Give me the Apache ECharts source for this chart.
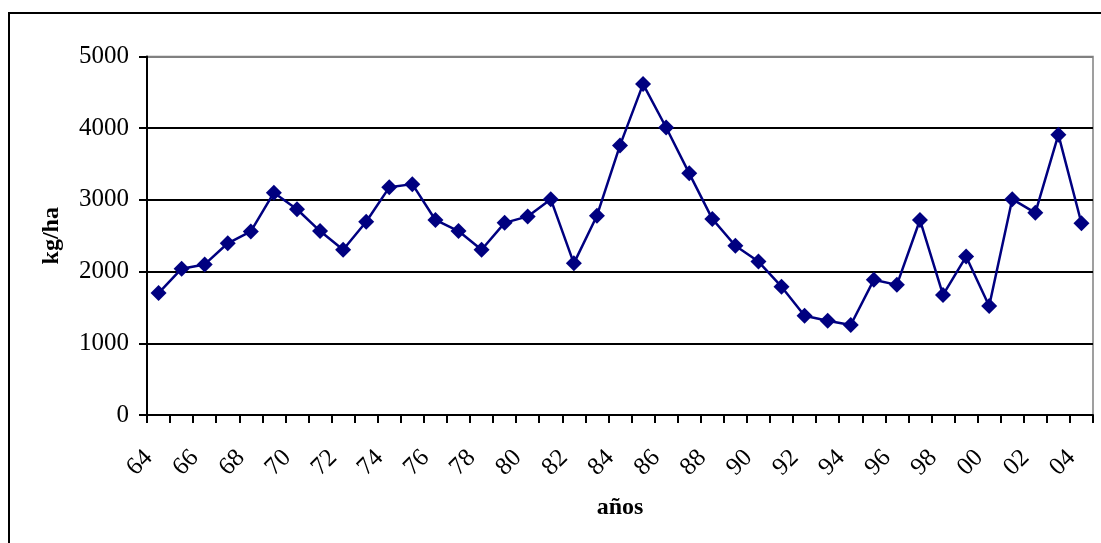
<!DOCTYPE html>
<html>
<head>
<meta charset="utf-8">
<script src="https://cdn.jsdelivr.net/npm/echarts@6/dist/echarts.min.js"></script>
<style>
  html, body { margin: 0; padding: 0; background: #fff; }
  #chart { width: 1101px; height: 543px; }
</style>
</head>
<body>
<div id="chart"></div>
<script>
// Years 1964–2004, labelled with two digits
const years = ['64','65','66','67','68','69','70','71','72','73','74','75','76','77','78','79',
  '80','81','82','83','84','85','86','87','88','89','90','91','92','93','94','95','96','97','98','99',
  '00','01','02','03','04'];

// Yield in kg/ha
const yieldKgHa = [1700, 2040, 2100, 2395, 2560, 3100, 2870, 2565, 2305, 2695, 3175, 3220, 2720, 2565, 2305, 2680,
  2770, 3010, 2115, 2780, 3760, 4615, 4010, 3370, 2735, 2360, 2140, 1790, 1385, 1315, 1255, 1885, 1815, 2720, 1675, 2210,
  1520, 3010, 2820, 3910, 2675];

const yTicks = [0, 1000, 2000, 3000, 4000, 5000];

const serif = '"Liberation Serif", "DejaVu Serif", serif';
const chart = echarts.init(document.getElementById('chart'), null, { renderer: 'canvas' });

chart.setOption({
  backgroundColor: '#ffffff',
  animation: false,
  graphic: [{
    type: 'rect',
    silent: true,
    z: -10,
    shape: { x: 9, y: 13, width: 1120, height: 560 },
    style: { fill: 'none', stroke: '#000000', lineWidth: 2 }
  }],
  grid: {
    left: 147, top: 56.5, right: 8, bottom: 128,
    show: true, borderColor: '#808080', borderWidth: 1.5, backgroundColor: 'transparent'
  },
  xAxis: {
    type: 'category',
    data: years,
    boundaryGap: true,
    name: 'años',
    nameLocation: 'middle',
    nameGap: 81,
    nameTextStyle: { fontFamily: serif, fontWeight: 'bold', fontSize: 24, color: '#000' },
    axisLine: { lineStyle: { color: '#000', width: 2 } },
    axisTick: { show: true, interval: 0, length: 8, inside: false, lineStyle: { color: '#000', width: 2 } },
    axisLabel: {
      interval: 1, rotate: 45, margin: 29,
      padding: [0, 14, 0, 0],
      fontFamily: serif, fontSize: 25, color: '#000'
    },
    splitLine: { show: false }
  },
  yAxis: {
    type: 'value',
    min: yTicks[0], max: yTicks[yTicks.length - 1], interval: 1000,
    name: 'kg/ha',
    nameLocation: 'middle',
    nameGap: 83,
    nameRotate: 90,
    nameTextStyle: { fontFamily: serif, fontWeight: 'bold', fontSize: 24, color: '#000' },
    axisLine: { show: true, lineStyle: { color: '#000', width: 2 } },
    axisTick: { show: true, length: 8, lineStyle: { color: '#000', width: 2 } },
    axisLabel: {
      margin: 18, fontFamily: serif, fontSize: 25, color: '#000',
      formatter: v => String(v)
    },
    splitLine: {
      show: true,
      lineStyle: { color: ['#000', '#000', '#000', '#000', '#000', '#808080'], width: 2 }
    }
  },
  series: [{
    type: 'line',
    data: yieldKgHa,
    symbol: 'diamond',
    symbolSize: [16, 16],
    showAllSymbol: true,
    lineStyle: { color: '#000080', width: 2.5 },
    itemStyle: { color: '#000080' },
    z: 5
  }]
});
</script>
</body>
</html>
